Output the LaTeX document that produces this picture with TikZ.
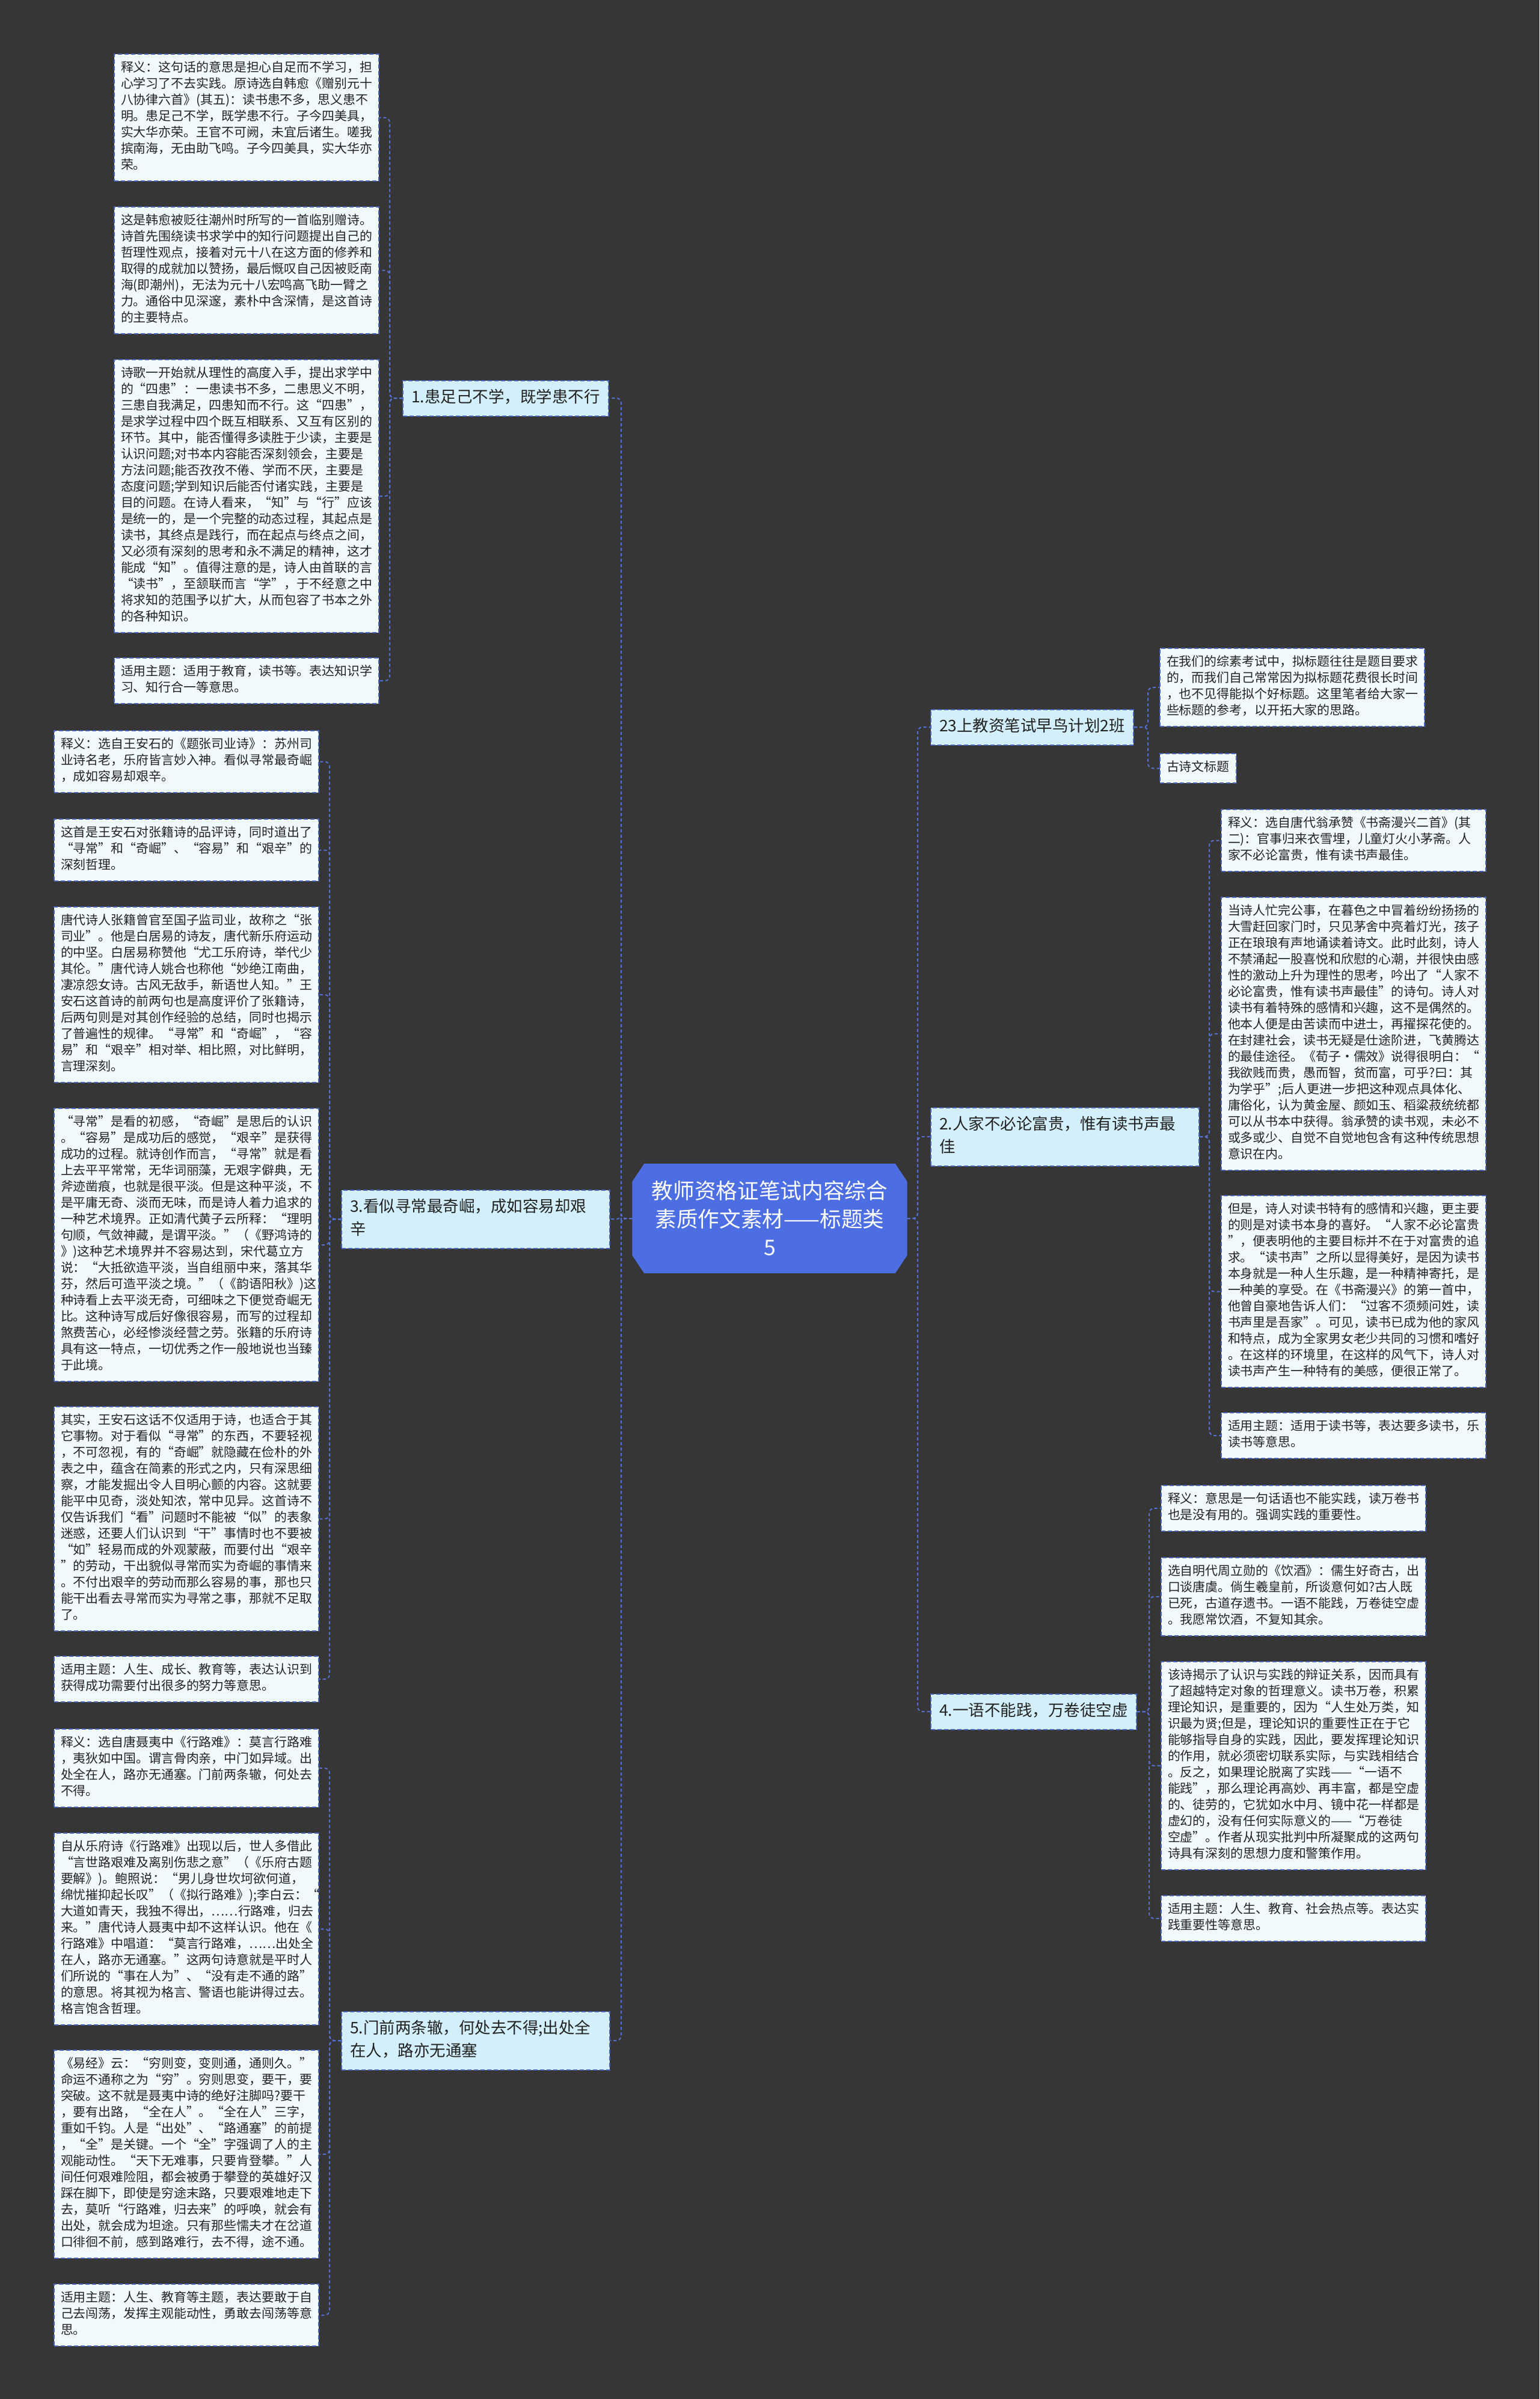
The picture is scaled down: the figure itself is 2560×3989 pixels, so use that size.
\documentclass[tikz,border=0pt]{standalone}
\usepackage{fontspec}
\setmainfont{Noto Sans CJK SC}
\usetikzlibrary{calc}
\definecolor{bgc}{HTML}{363636}
\definecolor{leaffill}{HTML}{F0FAFD}
\definecolor{brfill}{HTML}{D3EFFB}
\definecolor{ctrfill}{HTML}{4D6EE2}
\definecolor{edgec}{HTML}{4A64BE}
\definecolor{linec}{HTML}{5470D2}
\definecolor{txtc}{HTML}{222222}
\begin{document}
\begin{tikzpicture}[x=1pt,y=-1pt,
  leafbase/.style={draw=edgec, fill=leaffill, line width=2pt, dash pattern=on 7pt off 4pt,
    text=txtc, anchor=north west, inner xsep=11pt, inner ysep=11pt, align=left,
    font=\fontsize{20.9}{27}\selectfont, execute at begin node=\strut, execute at end node=\strut},
  leaf/.style={leafbase, text width=418pt},
  branch/.style={draw=edgec, fill=brfill, line width=2pt, dash pattern=on 7pt off 4pt,
    text=txtc, anchor=west, inner xsep=14pt, inner ysep=10.5pt, align=left,
    font=\fontsize{26.5}{38}\selectfont, execute at begin node=\strut, execute at end node=\strut},
  branchw/.style={branch, text width=418pt},
  ctrbox/.style={minimum width=457pt, minimum height=182pt, inner sep=0pt},
  ctrtext/.style={text=white, align=center, font=\fontsize{35.7}{47}\selectfont, inner sep=0pt},
  conn/.style={draw=linec, line width=2pt, dash pattern=on 5pt off 4pt, rounded corners=8pt}
]
\useasboundingbox (0,0) rectangle (2560,3989);
\fill[bgc] (0,0) rectangle (2560,3989);

% centre
\node[ctrbox] (ctr) at (1280,2026) {};
\fill[ctrfill] ($(ctr.north west)+(20,0)$) -- ($(ctr.north east)+(-20,0)$) -- ($(ctr.north east)+(0,30)$)
  -- ($(ctr.south east)+(0,-30)$) -- ($(ctr.south east)+(-20,0)$) -- ($(ctr.south west)+(20,0)$)
  -- ($(ctr.south west)+(0,-30)$) -- ($(ctr.north west)+(0,30)$) -- cycle;
\node[ctrtext] (ctrt) at (ctr.center) {教师资格证笔试内容综合\\素质作文素材——标题类\\5};

% branches
\node[branch] (b1) at (669,662) {1.患足己不学，既学患不行};
\node[branchw] (b3) at (567,2027) {3.看似寻常最奇崛，成如容易却艰\\辛};
\node[branchw] (b5) at (567,3393) {5.门前两条辙，何处去不得;出处全\\在人，路亦无通塞};
\node[branch] (b23) at (1547,1209) {23上教资笔试早鸟计划2班};
\node[branchw] (b2) at (1547,1890) {2.人家不必论富贵，惟有读书声最\\佳};
\node[branch] (b4) at (1547,2846) {4.一语不能践，万卷徒空虚};

% leaves of branch 1
\node[leaf] (a1) at (189,89) {释义：这句话的意思是担心自足而不学习，担\\心学习了不去实践。原诗选自韩愈《赠别元十\\八协律六首》(其五)：读书患不多，思义患不\\明。患足己不学，既学患不行。子今四美具，\\实大华亦荣。王官不可阙，未宜后诸生。嗟我\\摈南海，无由助飞鸣。子今四美具，实大华亦\\荣。};
\node[leaf] (a2) at (189,343) {这是韩愈被贬往潮州时所写的一首临别赠诗。\\诗首先围绕读书求学中的知行问题提出自己的\\哲理性观点，接着对元十八在这方面的修养和\\取得的成就加以赞扬，最后慨叹自己因被贬南\\海(即潮州)，无法为元十八宏鸣高飞助一臂之\\力。通俗中见深邃，素朴中含深情，是这首诗\\的主要特点。};
\node[leaf] (a3) at (189,597) {诗歌一开始就从理性的高度入手，提出求学中\\的“四患”：一患读书不多，二患思义不明，\\三患自我满足，四患知而不行。这“四患”，\\是求学过程中四个既互相联系、又互有区别的\\环节。其中，能否懂得多读胜于少读，主要是\\认识问题;对书本内容能否深刻领会，主要是\\方法问题;能否孜孜不倦、学而不厌，主要是\\态度问题;学到知识后能否付诸实践，主要是\\目的问题。在诗人看来，“知”与“行”应该\\是统一的，是一个完整的动态过程，其起点是\\读书，其终点是践行，而在起点与终点之间，\\又必须有深刻的思考和永不满足的精神，这才\\能成“知”。值得注意的是，诗人由首联的言\\“读书”，至颔联而言“学”，于不经意之中\\将求知的范围予以扩大，从而包容了书本之外\\的各种知识。};
\node[leaf] (a4) at (189,1093) {适用主题：适用于教育，读书等。表达知识学\\习、知行合一等意思。};

% leaves of branch 3
\node[leaf] (c31) at (89,1214) {释义：选自王安石的《题张司业诗》：苏州司\\业诗名老，乐府皆言妙入神。看似寻常最奇崛\\，成如容易却艰辛。};
\node[leaf] (c32) at (89,1361) {这首是王安石对张籍诗的品评诗，同时道出了\\“寻常”和“奇崛”、“容易”和“艰辛”的\\深刻哲理。};
\node[leaf] (c33) at (89,1507) {唐代诗人张籍曾官至国子监司业，故称之“张\\司业”。他是白居易的诗友，唐代新乐府运动\\的中坚。白居易称赞他“尤工乐府诗，举代少\\其伦。”唐代诗人姚合也称他“妙绝江南曲，\\凄凉怨女诗。古风无敌手，新语世人知。”王\\安石这首诗的前两句也是高度评价了张籍诗，\\后两句则是对其创作经验的总结，同时也揭示\\了普遍性的规律。“寻常”和“奇崛”，“容\\易”和“艰辛”相对举、相比照，对比鲜明，\\言理深刻。};
\node[leaf] (c34) at (89,1842) {“寻常”是看的初感，“奇崛”是思后的认识\\。“容易”是成功后的感觉，“艰辛”是获得\\成功的过程。就诗创作而言，“寻常”就是看\\上去平平常常，无华词丽藻，无艰字僻典，无\\斧迹凿痕，也就是很平淡。但是这种平淡，不\\是平庸无奇、淡而无味，而是诗人着力追求的\\一种艺术境界。正如清代黄子云所释：“理明\\句顺，气敛神藏，是谓平淡。”（《野鸿诗的\\》)这种艺术境界并不容易达到，宋代葛立方\\说：“大抵欲造平淡，当自组丽中来，落其华\\芬，然后可造平淡之境。”（《韵语阳秋》)这\\种诗看上去平淡无奇，可细味之下便觉奇崛无\\比。这种诗写成后好像很容易，而写的过程却\\煞费苦心，必经惨淡经营之劳。张籍的乐府诗\\具有这一特点，一切优秀之作一般地说也当臻\\于此境。};
\node[leaf] (c35) at (89,2338) {其实，王安石这话不仅适用于诗，也适合于其\\它事物。对于看似“寻常”的东西，不要轻视\\，不可忽视，有的“奇崛”就隐藏在俭朴的外\\表之中，蕴含在简素的形式之内，只有深思细\\察，才能发掘出令人目明心颤的内容。这就要\\能平中见奇，淡处知浓，常中见异。这首诗不\\仅告诉我们“看”问题时不能被“似”的表象\\迷惑，还要人们认识到“干”事情时也不要被\\“如”轻易而成的外观蒙蔽，而要付出“艰辛\\”的劳动，干出貌似寻常而实为奇崛的事情来\\。不付出艰辛的劳动而那么容易的事，那也只\\能干出看去寻常而实为寻常之事，那就不足取\\了。};
\node[leaf] (c36) at (89,2753) {适用主题：人生、成长、教育等，表达认识到\\获得成功需要付出很多的努力等意思。};

% leaves of branch 5
\node[leaf] (c51) at (89,2874) {释义：选自唐聂夷中《行路难》：莫言行路难\\，夷狄如中国。谓言骨肉亲，中门如异域。出\\处全在人，路亦无通塞。门前两条辙，何处去\\不得。};
\node[leaf] (c52) at (89,3047) {自从乐府诗《行路难》出现以后，世人多借此\\“言世路艰难及离别伤悲之意”（《乐府古题\\要解》)。鲍照说：“男儿身世坎坷欲何道，\\绵忧摧抑起长叹”（《拟行路难》);李白云：“\\大道如青天，我独不得出，……行路难，归去\\来。”唐代诗人聂夷中却不这样认识。他在《\\行路难》中唱道：“莫言行路难，……出处全\\在人，路亦无通塞。”这两句诗意就是平时人\\们所说的“事在人为”、“没有走不通的路”\\的意思。将其视为格言、警语也能讲得过去。\\格言饱含哲理。};
\node[leaf] (c53) at (89,3408) {《易经》云：“穷则变，变则通，通则久。”\\命运不通称之为“穷”。穷则思变，要干，要\\突破。这不就是聂夷中诗的绝好注脚吗?要干\\，要有出路，“全在人”。“全在人”三字，\\重如千钧。人是“出处”、“路通塞”的前提\\，“全”是关键。一个“全”字强调了人的主\\观能动性。“天下无难事，只要肯登攀。”人\\间任何艰难险阻，都会被勇于攀登的英雄好汉\\踩在脚下，即使是穷途末路，只要艰难地走下\\去，莫听“行路难，归去来”的呼唤，就会有\\出处，就会成为坦途。只有那些懦夫才在岔道\\口徘徊不前，感到路难行，去不得，途不通。};
\node[leaf] (c54) at (89,3797) {适用主题：人生、教育等主题，表达要敢于自\\己去闯荡，发挥主观能动性，勇敢去闯荡等意\\思。};

% leaves of branch 23
\node[leaf] (d1) at (1928,1077) {在我们的综素考试中，拟标题往往是题目要求\\的，而我们自己常常因为拟标题花费很长时间\\，也不见得能拟个好标题。这里笔者给大家一\\些标题的参考，以开拓大家的思路。};
\node[leafbase] (d2) at (1928,1252) {古诗文标题};

% leaves of branch 2
\node[leaf] (e1) at (2030,1345) {释义：选自唐代翁承赞《书斋漫兴二首》(其\\二)：官事归来衣雪埋，儿童灯火小茅斋。人\\家不必论富贵，惟有读书声最佳。};
\node[leaf] (e2) at (2030,1491) {当诗人忙完公事，在暮色之中冒着纷纷扬扬的\\大雪赶回家门时，只见茅舍中亮着灯光，孩子\\正在琅琅有声地诵读着诗文。此时此刻，诗人\\不禁涌起一股喜悦和欣慰的心潮，并很快由感\\性的激动上升为理性的思考，吟出了“人家不\\必论富贵，惟有读书声最佳”的诗句。诗人对\\读书有着特殊的感情和兴趣，这不是偶然的。\\他本人便是由苦读而中进士，再擢探花使的。\\在封建社会，读书无疑是仕途阶进，飞黄腾达\\的最佳途径。《荀子·儒效》说得很明白：“\\我欲贱而贵，愚而智，贫而富，可乎?曰：其\\为学乎”;后人更进一步把这种观点具体化、\\庸俗化，认为黄金屋、颜如玉、稻粱菽统统都\\可以从书本中获得。翁承赞的读书观，未必不\\或多或少、自觉不自觉地包含有这种传统思想\\意识在内。};
\node[leaf] (e3) at (2030,1987) {但是，诗人对读书特有的感情和兴趣，更主要\\的则是对读书本身的喜好。“人家不必论富贵\\”，便表明他的主要目标并不在于对富贵的追\\求。“读书声”之所以显得美好，是因为读书\\本身就是一种人生乐趣，是一种精神寄托，是\\一种美的享受。在《书斋漫兴》的第一首中，\\他曾自豪地告诉人们：“过客不须频问姓，读\\书声里是吾家”。可见，读书已成为他的家风\\和特点，成为全家男女老少共同的习惯和嗜好\\。在这样的环境里，在这样的风气下，诗人对\\读书声产生一种特有的美感，便很正常了。};
\node[leaf] (e4) at (2030,2348) {适用主题：适用于读书等，表达要多读书，乐\\读书等意思。};

% leaves of branch 4
\node[leaf] (f1) at (1930,2469) {释义：意思是一句话语也不能实践，读万卷书\\也是没有用的。强调实践的重要性。};
\node[leaf] (f2) at (1930,2589) {选自明代周立勋的《饮酒》：儒生好奇古，出\\口谈唐虞。倘生羲皇前，所谈意何如?古人既\\已死，古道存遗书。一语不能践，万卷徒空虚\\。我愿常饮酒，不复知其余。};
\node[leaf] (f3) at (1930,2762) {该诗揭示了认识与实践的辩证关系，因而具有\\了超越特定对象的哲理意义。读书万卷，积累\\理论知识，是重要的，因为“人生处万类，知\\识最为贤;但是，理论知识的重要性正在于它\\能够指导自身的实践，因此，要发挥理论知识\\的作用，就必须密切联系实际，与实践相结合\\。反之，如果理论脱离了实践——“一语不\\能践”，那么理论再高妙、再丰富，都是空虚\\的、徒劳的，它犹如水中月、镜中花一样都是\\虚幻的，没有任何实际意义的——“万卷徒\\空虚”。作者从现实批判中所凝聚成的这两句\\诗具有深刻的思想力度和警策作用。};
\node[leaf] (f4) at (1930,3151) {适用主题：人生、教育、社会热点等。表达实\\践重要性等意思。};

% junction columns
\coordinate (lj) at (1033,0);
\coordinate (rj) at (1526,0);
\coordinate (v1) at (648,0);
\coordinate (v3) at (548,0);
\coordinate (v23) at (1909,0);
\coordinate (v2) at (2011,0);
\coordinate (v4) at (1911,0);

% centre to branches
\foreach \b in {b1,b3,b5}{\draw[conn] (ctr.west) -- (ctr.west -| lj) |- (\b.east);}
\foreach \b in {b23,b2,b4}{\draw[conn] (ctr.east) -- (ctr.east -| rj) |- (\b.west);}

% branches to leaves
\foreach \l in {a1,a2,a3,a4}{\draw[conn] (b1.west) -- (b1.west -| v1) |- (\l.east);}
\foreach \l in {c31,c32,c33,c34,c35,c36}{\draw[conn] (b3.west) -- (b3.west -| v3) |- (\l.east);}
\foreach \l in {c51,c52,c53,c54}{\draw[conn] (b5.west) -- (b5.west -| v3) |- (\l.east);}
\foreach \l in {d1,d2}{\draw[conn] (b23.east) -- (b23.east -| v23) |- (\l.west);}
\foreach \l in {e1,e2,e3,e4}{\draw[conn] (b2.east) -- (b2.east -| v2) |- (\l.west);}
\foreach \l in {f1,f2,f3,f4}{\draw[conn] (b4.east) -- (b4.east -| v4) |- (\l.west);}
\end{tikzpicture}
\end{document}
